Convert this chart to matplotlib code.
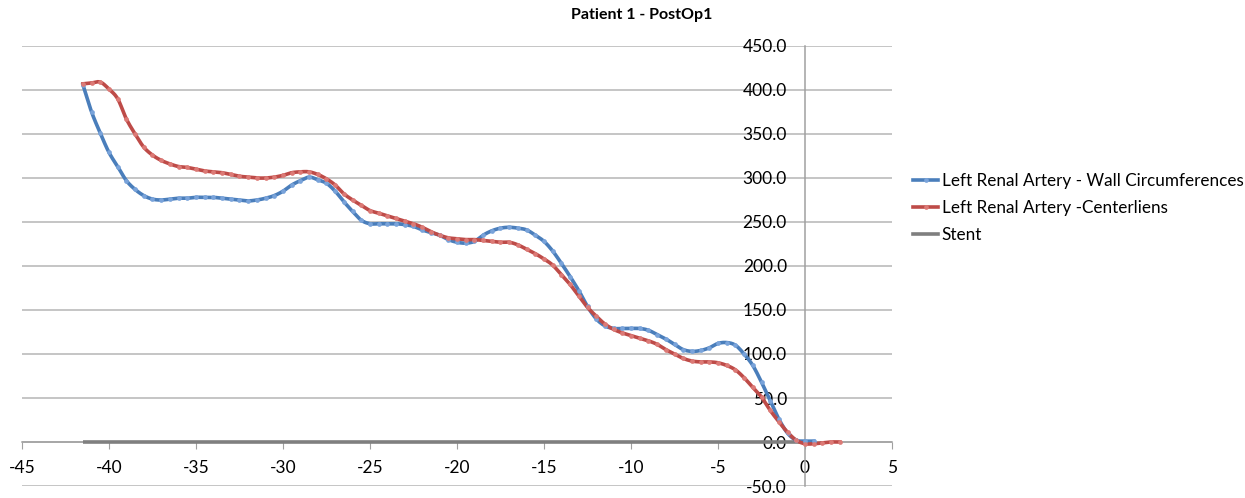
import numpy as np
import matplotlib
matplotlib.use("Agg")
import matplotlib.pyplot as plt

plt.rcParams['font.family'] = ['Lato', 'DejaVu Sans']

# distance along the vessel (cm), sampled every 0.5
wall_x = np.arange(-41.5, 0.51, 0.5)
wall_y = [406, 375, 351, 329, 313, 297, 287, 280, 276, 275,
          276, 277, 277, 278, 278, 278, 277, 276, 275, 274,
          275, 277, 280, 285, 292, 297, 301, 298, 294, 285,
          273, 262, 252, 248, 248, 248, 248, 247, 245, 241,
          238, 235, 230, 227, 226, 228, 235, 240, 243, 244,
          243, 241, 235, 228, 217, 203, 188, 172, 154, 140,
          132, 129, 129, 129, 129, 127, 122, 117, 111, 105,
          103, 104, 107, 112, 113, 110, 100, 87, 68, 47,
          26, 10, 2, 1, 1]

center_x = np.arange(-41.5, 2.01, 0.5)
center_y = [407, 408, 409, 401, 390, 367, 350, 335, 326, 320,
            316, 313, 312, 310, 308, 307, 306, 304, 302, 301,
            300, 300, 301, 303, 306, 307, 307, 304, 299, 292,
            282, 275, 269, 263, 260, 257, 254, 251, 248, 244,
            239, 235, 232, 231, 230, 230, 229, 228, 227, 227,
            224, 219, 214, 208, 201, 190, 179, 166, 153, 143,
            134, 128, 124, 121, 118, 115, 111, 105, 100, 95,
            92, 91, 91, 90, 87, 82, 73, 62, 51, 36,
            23, 11, 2, -2, -2, -1, 0, 0]

stent_x = [-41.5, 0]
stent_y = [0, 0]

x_ticks = list(range(-45, 6, 5))
y_ticks = list(range(-50, 451, 50))


def smooth(x, y, n=10):
    # Catmull-Rom curve through the points, like a spreadsheet "smoothed line"
    p = np.column_stack([x, y]).astype(float)
    p = np.vstack([p[0], p, p[-1]])
    out = []
    t = np.linspace(0, 1, n, endpoint=False)[:, None]
    for i in range(1, len(p) - 2):
        p0, p1, p2, p3 = p[i - 1], p[i], p[i + 1], p[i + 2]
        seg = 0.5 * ((2 * p1) + (-p0 + p2) * t
                     + (2 * p0 - 5 * p1 + 4 * p2 - p3) * t ** 2
                     + (-p0 + 3 * p1 - 3 * p2 + p3) * t ** 3)
        out.append(seg)
    out.append(p[-2][None, :])
    out = np.vstack(out)
    return out[:, 0], out[:, 1]


fig = plt.figure(figsize=(12.45, 4.98), dpi=100)
ax = fig.add_axes([22 / 1245, 12 / 498, 870 / 1245, 440 / 498])

blue = '#4a7ebb'
red = '#be4b48'
grey = '#7f7f7f'
blue_pt = '#79a3da'
red_pt = '#dc7a76'

ax.plot(stent_x, stent_y, color=grey, lw=2.6, solid_capstyle='butt', zorder=3)

sx, sy = smooth(wall_x, wall_y)
ax.plot(sx, sy, color=blue, lw=2.6, zorder=4)
ax.plot(wall_x, wall_y, 'o', ms=3.4, color=blue_pt, mec='none', zorder=5)

sx, sy = smooth(center_x, center_y)
ax.plot(sx, sy, color=red, lw=2.6, zorder=4)
ax.plot(center_x, center_y, 'o', ms=3.4, color=red_pt, mec='none', zorder=5)

ax.set_xlim(-45, 5)
ax.set_ylim(-50, 450)
ax.set_xticks(x_ticks)
ax.set_yticks(y_ticks)
ax.set_xticklabels([str(v) for v in x_ticks])
ax.set_yticklabels(['%.1f' % v for v in y_ticks])

ax.grid(axis='y', color='#b5b5b5', lw=1.1)
ax.set_axisbelow(True)
for s in ['top', 'right']:
    ax.spines[s].set_visible(False)
ax.spines['bottom'].set_position(('data', 0))
ax.spines['left'].set_position(('data', 0))
ax.spines['bottom'].set_color('#a0a0a0')
ax.spines['left'].set_color('#a0a0a0')
ax.spines['bottom'].set_linewidth(1.1)
ax.spines['left'].set_linewidth(1.1)
ax.tick_params(axis='x', direction='out', length=5, color='#a0a0a0',
               labelsize=12.5, pad=8)
ax.tick_params(axis='y', length=0, labelsize=12.5, pad=13)
ax.patch.set_visible(False)

fig.text(712 / 1245, 1 - 15 / 498, 'Patient 1 - PostOp1', ha='right',
         va='center', fontsize=11.5, fontweight='bold')

h1, = ax.plot([], [], color=blue, lw=2.6, marker='o', ms=3.4, mfc=blue_pt, mec='none')
h2, = ax.plot([], [], color=red, lw=2.6, marker='o', ms=3.4, mfc=red_pt, mec='none')
h3, = ax.plot([], [], color=grey, lw=2.6)
fig.legend([h1, h2, h3],
           ['Left Renal Artery - Wall Circumferences',
            'Left Renal Artery -Centerliens', 'Stent'],
           loc='center left', bbox_to_anchor=(898 / 1245, 1 - 208 / 498),
           frameon=False, fontsize=12.3, handlelength=1.45, handletextpad=0.2,
           labelspacing=0.65, numpoints=1)

fig.savefig('out.png', dpi=100)
